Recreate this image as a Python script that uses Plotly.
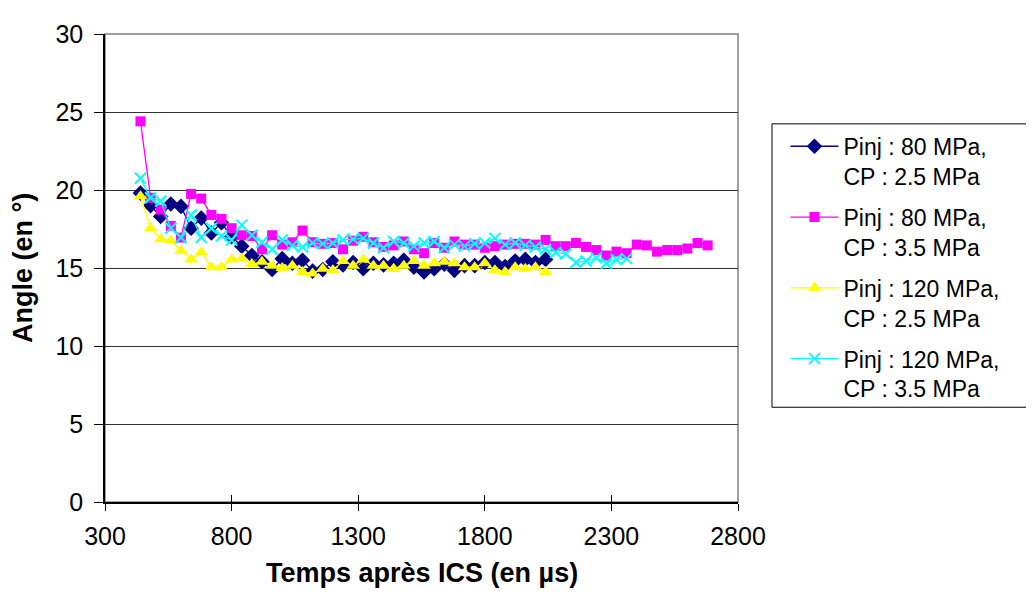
import plotly.graph_objects as go

# Time axis (µs) shared by the series
times = [440, 480, 520, 560, 600, 640, 680, 720, 760, 800,
         840, 880, 920, 960, 1000, 1040, 1080, 1120, 1160, 1200,
         1240, 1280, 1320, 1360, 1400, 1440, 1480, 1520, 1560, 1600,
         1640, 1680, 1720, 1760, 1800, 1840, 1880, 1920, 1960, 2000,
         2040, 2080, 2120, 2160, 2200, 2240, 2280, 2320, 2360, 2400,
         2440, 2480, 2520, 2560, 2600, 2640, 2680]

names = ["Pinj : 80 MPa,<br>CP : 2.5 MPa",
         "Pinj : 80 MPa,<br>CP : 3.5 MPa",
         "Pinj : 120 MPa,<br>CP : 2.5 MPa",
         "Pinj : 120 MPa,<br>CP : 3.5 MPa"]

p80_cp25 = [19.8, 19.0, 18.3, 19.1, 18.95, 17.55, 18.2, 17.25, 17.9, 17.0,
            16.4, 15.8, 15.4, 14.9, 15.6, 15.3, 15.5, 14.8, 14.9, 15.4,
            15.2, 15.35, 14.95, 15.3, 15.2, 15.3, 15.5, 15.05, 14.75, 14.95,
            15.25, 14.85, 15.15, 15.15, 15.35, 15.35, 15.1, 15.45, 15.55, 15.35,
            15.55]

p80_cp35 = [24.4, 19.5, 18.75, 17.7, 16.95, 19.75, 19.45, 18.4, 18.15, 17.55,
            17.1, 17.05, 16.2, 17.1, 16.5, 16.65, 17.4, 16.65, 16.55, 16.6,
            16.2, 16.75, 17.0, 16.65, 16.35, 16.45, 16.7, 16.2, 15.95, 16.6,
            16.3, 16.7, 16.5, 16.5, 16.3, 16.4, 16.5, 16.55, 16.55, 16.5,
            16.8, 16.4, 16.4, 16.6, 16.35, 16.15, 15.8, 16.05, 15.95, 16.5,
            16.45, 16.05, 16.15, 16.15, 16.25, 16.6, 16.45]

p120_cp25 = [19.6, 17.55, 16.85, 16.75, 16.1, 15.55, 16.0, 15.05, 15.05, 15.55,
             15.6, 15.25, 15.4, 15.15, 15.0, 15.15, 14.75, 14.65, 14.95, 14.85,
             15.45, 15.15, 15.55, 15.15, 15.15, 14.95, 15.15, 15.45, 15.15, 15.3,
             15.4, 15.3, 15.05, 15.05, 15.3, 14.85, 14.75, 15.05, 14.95, 15.05,
             14.75]

p120_cp35 = [20.75, 19.5, 19.3, 17.55, 16.95, 18.4, 16.95, 17.55, 17.05, 16.8,
             17.75, 17.1, 16.65, 16.2, 16.8, 16.45, 16.35, 16.6, 16.55, 16.6,
             16.8, 16.85, 16.9, 16.6, 16.3, 16.7, 16.6, 16.4, 16.6, 16.7,
             16.3, 16.5, 16.4, 16.55, 16.6, 16.9, 16.5, 16.6, 16.45, 16.35,
             16.2, 16.0, 15.9, 15.35, 15.45, 15.65, 15.3, 15.55, 15.6]

y_ticks = [0, 5, 10, 15, 20, 25, 30]
x_ticks = [300, 800, 1300, 1800, 2300, 2800]

FONT = "Liberation Sans, Arial, sans-serif"
TICK_SIZE = 25
LEG_SIZE = 23
TITLE_SIZE = 27

series = [
    (p80_cp25, "#000080", dict(symbol="diamond", size=12, color="#000080")),
    (p80_cp35, "#FF00FF", dict(symbol="square", size=10, color="#FF00FF")),
    (p120_cp25, "#FFFF00", dict(symbol="triangle-up", size=12, color="#FFFF00")),
    (p120_cp35, "#00FFFF", dict(symbol="x-thin", size=11,
                               line=dict(width=2, color="#00FFFF"), color="#00FFFF")),
]

fig = go.Figure()
for i, (vals, col, mk) in enumerate(series):
    fig.add_trace(go.Scatter(
        x=times[:len(vals)], y=vals, mode="lines+markers",
        name=names[i], legendgroup=f"g{i}",
        line=dict(color=col, width=1.3), marker=mk,
    ))

# overlay axis to produce ticks crossing the x axis
fig.add_trace(go.Scatter(x=[x_ticks[0]], y=[0], xaxis="x2", mode="markers",
                         marker=dict(opacity=0), showlegend=False, hoverinfo="skip"))

fig.update_layout(
    width=1034, height=603,
    margin=dict(l=97, r=304, t=15, b=109),
    paper_bgcolor="white", plot_bgcolor="white",
    font=dict(family=FONT, size=LEG_SIZE, color="black"),
    showlegend=True,
    legend=dict(
        x=1.075, xanchor="left", y=0.806, yanchor="top",
        borderwidth=0, bgcolor="rgba(0,0,0,0)",
        font=dict(family=FONT, size=LEG_SIZE, color="black"),
        traceorder="grouped", tracegroupgap=8,
        itemwidth=48, valign="top",
    ),
    xaxis=dict(
        range=[300, 2800], tickvals=x_ticks, ticktext=[str(v) for v in x_ticks],
        ticks="outside", ticklen=7, tickcolor="black", tickwidth=1,
        showline=True, linecolor="black", linewidth=1.5,
        showgrid=False, zeroline=False, ticklabelstandoff=4,
        tickfont=dict(family=FONT, size=TICK_SIZE, color="black"),
    ),
    xaxis2=dict(
        range=[300, 2800], overlaying="x", side="bottom", anchor="y",
        tickvals=x_ticks, ticks="inside", ticklen=7, tickcolor="black", tickwidth=1,
        showticklabels=False, showgrid=False, zeroline=False, showline=False,
    ),
    yaxis=dict(
        range=[0, 30], tickvals=y_ticks, ticktext=[str(v) for v in y_ticks],
        ticks="outside", ticklen=9, tickcolor="black", tickwidth=1,
        showline=True, linecolor="black", linewidth=1.5,
        showgrid=True, gridcolor="#333333", gridwidth=1,
        zeroline=False, ticklabelstandoff=6,
        tickfont=dict(family=FONT, size=TICK_SIZE, color="black"),
    ),
    annotations=[
        dict(text="<b>Angle (en °)</b>", xref="paper", yref="paper",
             x=-0.1295, y=0.5, xanchor="center", yanchor="middle",
             textangle=-90, showarrow=False,
             font=dict(family=FONT, size=TITLE_SIZE, color="black")),
        dict(text="<b>Temps après ICS (en µs)</b>", xref="paper", yref="paper",
             x=0.5, y=-0.115, xanchor="center", yanchor="top",
             showarrow=False, font=dict(family=FONT, size=TITLE_SIZE, color="black")),
    ],
    shapes=[
        dict(type="rect", xref="paper", yref="paper", x0=0, y0=0, x1=1, y1=1,
             line=dict(color="#808080", width=1.5), layer="below"),
        dict(type="rect", xref="paper", yref="paper",
             x0=1.0537, x1=1.461, y0=0.2025, y1=0.808,
             line=dict(color="black", width=1), fillcolor="rgba(0,0,0,0)"),
    ],
)

fig.write_html("out.html")
